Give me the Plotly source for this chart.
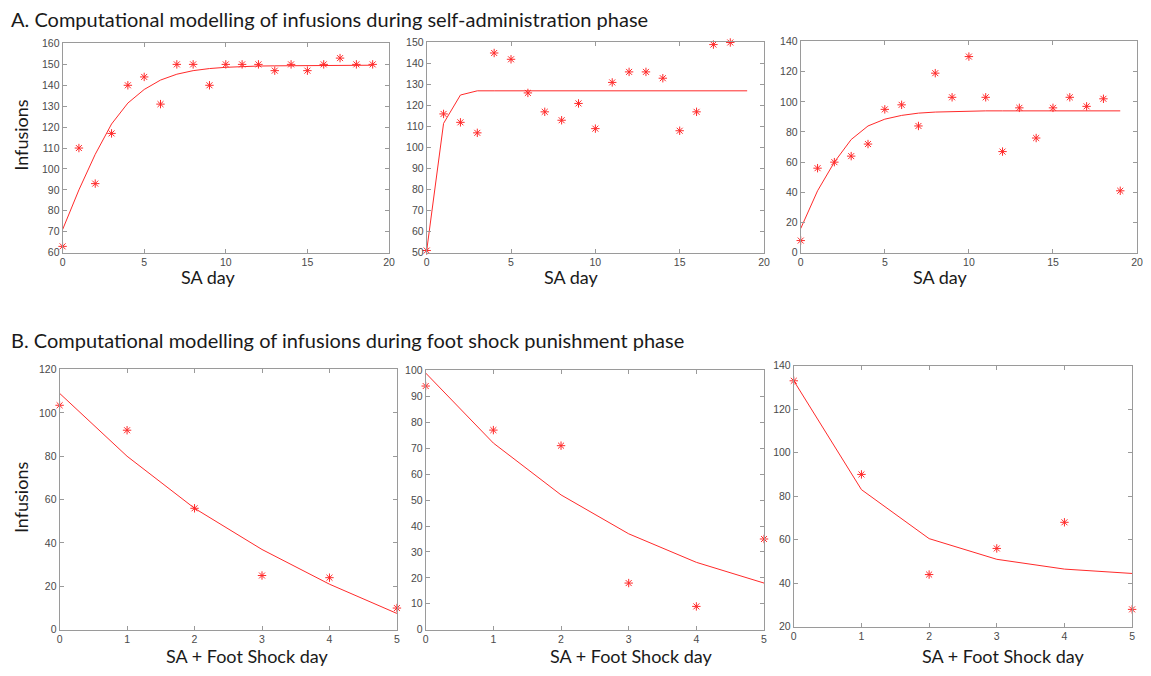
import plotly.graph_objects as go

W, H = 1151, 676
OFF = 8  # default page body margin of the written html
FW, FH = W - OFF, H - OFF

# ---- data ----
sa_days = list(range(20))
a1_obs = [63, 110, 93, 117, 140, 144, 131, 150, 150, 140, 150, 150, 150, 147, 150, 147, 150, 153, 150, 150]
a1_fit = [71, 90, 107, 121.5, 131.5, 138, 142.5, 145.3, 147, 148, 148.6, 149, 149.2, 149.3, 149.4, 149.5, 149.5, 149.5, 149.5, 149.6]

a2_days = list(range(19))
a2_obs = [51, 116, 112, 107, 145, 142, 126, 117, 113, 121, 109, 131, 136, 136, 133, 108, 117, 149, 150]
a2_fit = [51, 111.5, 125, 127, 127, 127, 127, 127, 127, 127, 127, 127, 127, 127, 127, 127, 127, 127, 127, 127]

a3_obs = [8, 56, 60, 64, 72, 95, 98, 84, 119, 103, 130, 103, 67, 96, 76, 96, 103, 97, 102, 41]
a3_fit = [16, 41, 60, 75, 84, 88.5, 91, 92.5, 93.2, 93.6, 93.8, 94, 94, 94, 94, 94, 94, 94, 94, 94]

fs_days = [0, 1, 2, 3, 4, 5]
b1_obs = [103.5, 92, 56, 25, 24, 10]
b1_fit = [109, 80, 56, 37, 21, 7.5]
b2_obs = [94, 77, 71, 18, 9, 35]
b2_fit = [99, 72, 52, 37, 26, 18]
b3_obs = [133, 90, 44, 56, 68, 28]
b3_fit = [133, 83, 60.5, 51, 46.5, 44.5]

title_a = "A. Computational modelling of infusions during self-administration phase"
title_b = "B. Computational modelling of infusions during foot shock punishment phase"
xlab_a = "SA day"
xlab_b = "SA + Foot Shock day"
ylab = "Infusions"

# ---- panel geometry (screen pixels: left, right, top, bottom) ----
panels = [
    dict(box=(60, 389, 38, 251), x=sa_days, obs=a1_obs, xo=sa_days, fit=a1_fit,
         xr=[0, 20], xd=5, yr=[60, 160], yd=10, xlab=xlab_a, lx=207, ly=276),
    dict(box=(427, 767, 37, 251), x=sa_days, obs=a2_obs, xo=a2_days, fit=a2_fit,
         xr=[0, 20], xd=5, yr=[50, 150], yd=10, xlab=xlab_a, lx=573, ly=276),
    dict(box=(804, 1143, 36, 251), x=sa_days, obs=a3_obs, xo=sa_days, fit=a3_fit,
         xr=[0, 20], xd=5, yr=[0, 140], yd=20, xlab=xlab_a, lx=945, ly=276),
    dict(box=(57, 397, 370, 635), x=fs_days, obs=b1_obs, xo=fs_days, fit=b1_fit,
         xr=[0, 5], xd=1, yr=[0, 120], yd=20, xlab=xlab_b, lx=246, ly=662),
    dict(box=(426, 767, 371, 635), x=fs_days, obs=b2_obs, xo=fs_days, fit=b2_fit,
         xr=[0, 5], xd=1, yr=[0, 100], yd=10, xlab=xlab_b, lx=633, ly=662),
    dict(box=(797, 1138, 366, 632), x=fs_days, obs=b3_obs, xo=fs_days, fit=b3_fit,
         xr=[0, 5], xd=1, yr=[20, 140], yd=20, xlab=xlab_b, lx=1008, ly=662),
]


def px(v):
    return (v - OFF) / FW


def py(v):
    return 1 - (v - OFF) / FH


RED = "#ff2a2a"
AX = "#9a9a9a"
TICKC = "#4a4a4a"
BIG = dict(family="Lato", size=18, color="#1a1a1a")
TITLE = dict(family="Lato", size=20, color="#1a1a1a")

fig = go.Figure()
anns = []
for i, p in enumerate(panels, start=1):
    l, r, t, b = p["box"]
    xa = "x" if i == 1 else f"x{i}"
    ya = "y" if i == 1 else f"y{i}"
    fig.add_trace(go.Scatter(x=p["x"], y=p["fit"], mode="lines",
                             line=dict(color=RED, width=1), xaxis=xa, yaxis=ya,
                             showlegend=False, hoverinfo="skip"))
    fig.add_trace(go.Scatter(x=p["xo"], y=p["obs"], mode="markers",
                             marker=dict(symbol="asterisk-open", size=7, color=RED,
                                         line=dict(color=RED, width=1)),
                             xaxis=xa, yaxis=ya, showlegend=False, cliponaxis=False))
    common = dict(showline=True, linecolor=AX, linewidth=1, mirror="ticks",
                  ticks="inside", ticklen=4, tickcolor=AX, showgrid=False,
                  zeroline=False, ticklabeloverflow="allow",
                  tickfont=dict(family="Liberation Sans", size=10.5, color=TICKC))
    sfx = "" if i == 1 else str(i)
    fig.layout[f"xaxis{sfx}"] = dict(
        domain=[px(l), px(r)], anchor=ya, range=p["xr"], dtick=p["xd"], tick0=0, **common)
    fig.layout[f"yaxis{sfx}"] = dict(
        domain=[py(b), py(t)], anchor=xa, range=p["yr"], dtick=p["yd"], tick0=0, **common)
    anns.append(dict(text=p["xlab"], x=px(p["lx"]), y=py(p["ly"]),
                     xref="paper", yref="paper", xanchor="center", yanchor="middle",
                     showarrow=False, font=BIG))

for cy in (131, 500):
    anns.append(dict(text=ylab, x=px(18), y=py(cy), xref="paper", yref="paper",
                     xanchor="center", yanchor="middle", textangle=-90, showarrow=False,
                     font=BIG))
anns.append(dict(text=title_a, x=0, y=py(13), xref="paper", yref="paper",
                 xanchor="left", yanchor="middle", showarrow=False, font=TITLE,
                 borderpad=0, borderwidth=0))
anns.append(dict(text=title_b, x=0, y=py(340), xref="paper", yref="paper",
                 xanchor="left", yanchor="middle", showarrow=False, font=TITLE,
                 borderpad=0, borderwidth=0))

fig.update_layout(width=FW, height=FH, margin=dict(l=0, r=0, t=0, b=0),
                  paper_bgcolor="white", plot_bgcolor="white", annotations=anns)
fig.write_html("out.html")
